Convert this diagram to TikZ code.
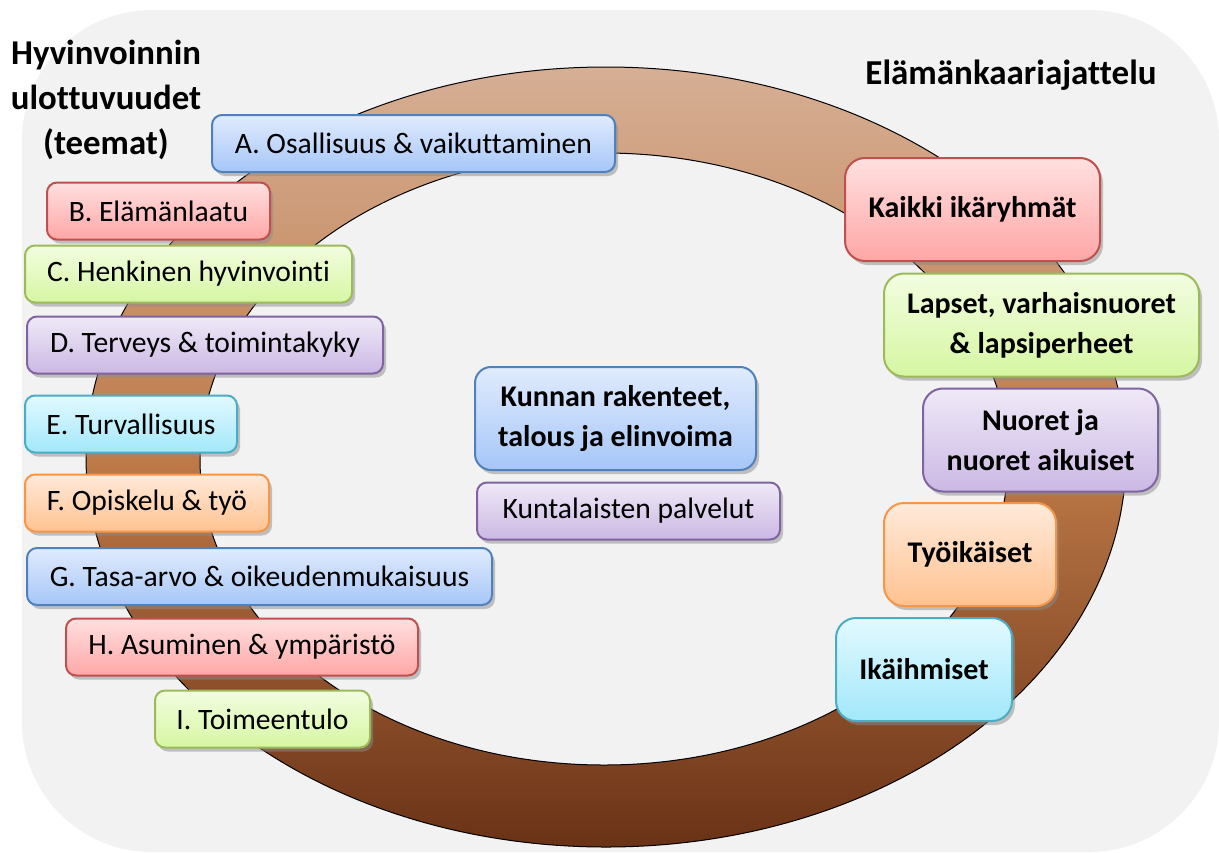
\documentclass[tikz,border=0pt]{standalone}
\usepackage{fontspec}
\setmainfont{Carlito}[Ligatures=NoCommon]
\usetikzlibrary{shadows}

\definecolor{bggray}{HTML}{F2F2F2}
\definecolor{ringT}{HTML}{D6AF95}
\definecolor{ringM}{HTML}{BE7A48}
\definecolor{ringB}{HTML}{6A3216}
\definecolor{blueT}{HTML}{E0EBFD}\definecolor{blueB}{HTML}{A6C6F8}\definecolor{blueD}{HTML}{4F81BD}
\definecolor{redT}{HTML}{FFE0E0}\definecolor{redB}{HTML}{FFA6A6}\definecolor{redD}{HTML}{C0504D}
\definecolor{greenT}{HTML}{F2FDE0}\definecolor{greenB}{HTML}{D6F6A2}\definecolor{greenD}{HTML}{9BBB59}
\definecolor{purpT}{HTML}{EFE9F7}\definecolor{purpB}{HTML}{CBB8E4}\definecolor{purpD}{HTML}{8064A2}
\definecolor{cyanT}{HTML}{E2F9FF}\definecolor{cyanB}{HTML}{A2E8FA}\definecolor{cyanD}{HTML}{4BACC6}
\definecolor{oranT}{HTML}{FFEADA}\definecolor{oranB}{HTML}{FFC290}\definecolor{oranD}{HTML}{F79646}

\begin{document}
\begin{tikzpicture}[x=0.5pt, y=-0.5pt,
    every node/.style={font=\fontsize{14.8}{17}\selectfont},
    theme/.style={draw, line width=1pt, rounded corners=5pt, inner sep=0pt, minimum height=28.5pt,
        drop shadow={shadow xshift=1.5pt, shadow yshift=-2pt, fill=black!45}},
    group/.style={theme, rounded corners=10pt, minimum height=51.5pt, align=center,
        font=\bfseries\fontsize{15}{20}\selectfont},
    bluebox/.style={top color=blueT, bottom color=blueB, draw=blueD},
    redbox/.style={top color=redT, bottom color=redB, draw=redD},
    greenbox/.style={top color=greenT, bottom color=greenB, draw=greenD},
    purpbox/.style={top color=purpT, bottom color=purpB, draw=purpD},
    cyanbox/.style={top color=cyanT, bottom color=cyanB, draw=cyanD},
    oranbox/.style={top color=oranT, bottom color=oranB, draw=oranD}]

    \useasboundingbox (0,0) rectangle (1219,852);
    % Background and ring
    \path[fill=bggray, rounded corners=65pt] (22,10) rectangle (1219,852);
    \path[draw=black, line width=0.5pt, even odd rule, top color=ringT, bottom color=ringB, middle color=ringM]
        (606,457) ellipse [x radius=520, y radius=390] (604,459) ellipse [x radius=404, y radius=306];

    % Headings
    \node[align=center, font=\bfseries\fontsize{17.4}{22.5}\selectfont] (title) at (106,100) {Hyvinvoinnin\\ulottuvuudet\\(teemat)};
    \node[font=\bfseries\fontsize{17.5}{20}\selectfont] (life) at (1011,75) {Elämänkaariajattelu};

    % Themes A-I
    \node[theme, bluebox, minimum width=201.5pt] (A) at (413.5,143.5) {A. Osallisuus \& vaikuttaminen};
    \node[theme, redbox, minimum width=111.5pt] (B) at (158.5,211) {B. Elämänlaatu};
    \node[theme, greenbox, minimum width=163.5pt] (C) at (188.5,274) {C. Henkinen hyvinvointi};
    \node[theme, purpbox, minimum width=178pt] (D) at (205,345) {D. Terveys \& toimintakyky};
    \node[theme, cyanbox, minimum width=106pt] (E) at (131,424) {E. Turvallisuus};
    \node[theme, oranbox, minimum width=122pt] (F) at (147,503) {F. Opiskelu \& työ};
    \node[theme, bluebox, minimum width=232.5pt] (G) at (259.5,576.5) {G. Tasa-arvo \& oikeudenmukaisuus};
    \node[theme, redbox, minimum width=176pt] (H) at (242,647) {H. Asuminen \& ympäristö};
    \node[theme, greenbox, minimum width=107.5pt] (I) at (262.5,719) {I. Toimeentulo};

    % Municipality
    \node[group, bluebox, rounded corners=8pt, minimum width=140.5pt] (econ) at (615.5,418.5) {Kunnan rakenteet,\\talous ja elinvoima};
    \node[theme, purpbox, minimum width=151.5pt] (serv) at (628.5,511) {Kuntalaisten palvelut};

    % Age groups
    \node[group, redbox, minimum width=127.5pt] (all) at (972.5,209.5) {Kaikki ikäryhmät};
    \node[group, greenbox, minimum width=157.5pt] (kids) at (1041.5,325) {Lapset, varhaisnuoret\\\& lapsiperheet};
    \node[group, purpbox, minimum width=117.5pt] (young) at (1040.5,440) {Nuoret ja\\nuoret aikuiset};
    \node[group, oranbox, minimum width=86pt] (work) at (970,554.5) {Työikäiset};
    \node[group, cyanbox, minimum width=88pt] (old) at (924,669.5) {Ikäihmiset};
\end{tikzpicture}
\end{document}
